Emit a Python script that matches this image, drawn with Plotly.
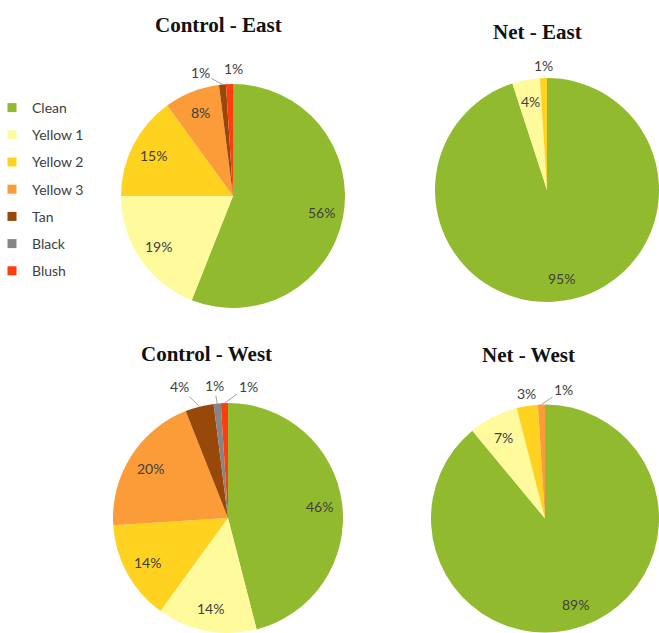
import math
import plotly.graph_objects as go

# Categories and colours
categories = ["Clean", "Yellow 1", "Yellow 2", "Yellow 3", "Tan", "Black", "Blush"]
colors = ["#92BA2E", "#FFFB9C", "#FFD21F", "#FB9C38", "#984808", "#858585", "#FF3D0F"]

# Percent of fruit in each category
control_east = [56, 19, 15, 8, 1, 0, 1]
net_east = [95, 4, 1, 0, 0, 0, 0]
control_west = [46, 14, 14, 20, 4, 1, 1]
net_west = [89, 7, 3, 1, 0, 0, 0]

W, H = 659, 633
LABEL_FONT = dict(family="Lato, Liberation Sans, sans-serif", size=14, color="#404040")
INSIDE_R = 0.8  # inside labels sit at this fraction of the radius


def px_x(x):
    return x / W


def px_y(y):
    return 1 - y / H


# Each panel: title, values, pie box (left, top, right, bottom) in px, title centre in px,
# and callout offsets (dx, dy, leader line) for the thin slices labelled outside the pie.
panels = [
    ("Control - East", control_east, (121, 84, 345, 308), (218, 25),
     {4: (-22, -12, True), 6: (4, -16, False)}),
    ("Net - East", net_east, (435, 76, 659, 304), (537, 32),
     {2: (0, -13, False)}),
    ("Control - West", control_west, (113, 403, 343, 633), (206, 354),
     {4: (-20, -20, True), 5: (-3, -18, True), 6: (24, -17, True)}),
    ("Net - West", net_west, (431, 404, 659, 633), (528, 355),
     {2: (-1, -12, False), 3: (22, -15, True)}),
]

fig = go.Figure()

for title, vals, (l, t, r, b), (tx, ty), callouts in panels:
    fig.add_trace(go.Pie(
        labels=categories,
        values=vals,
        textinfo="none",
        sort=False,
        direction="clockwise",
        rotation=0,
        marker=dict(colors=colors, line=dict(width=0)),
        domain=dict(x=[px_x(l), px_x(r)], y=[px_y(b), px_y(t)]),
        showlegend=False,
        hoverinfo="label+percent",
    ))
    fig.add_annotation(
        text=f"<b>{title}</b>", x=px_x(tx), y=px_y(ty), xref="paper", yref="paper",
        xanchor="center", yanchor="middle", showarrow=False,
        font=dict(family="Liberation Serif, Times New Roman, serif", size=21, color="#111111"),
    )

    # Percentage labels placed on each slice's bisector
    cx, cy = (l + r) / 2, (t + b) / 2
    rad = min(r - l, b - t) / 2
    total = sum(vals)
    cum = 0
    for i, v in enumerate(vals):
        if v <= 0:
            continue
        mid = (cum + v / 2) / total * 2 * math.pi
        cum += v
        sx, sy = math.sin(mid), -math.cos(mid)
        if i in callouts:
            dx, dy, leader = callouts[i]
            fig.add_annotation(
                text=f"{v}%", x=px_x(cx + rad * sx), y=px_y(cy + rad * sy),
                xref="paper", yref="paper", showarrow=True, ax=dx, ay=dy,
                arrowhead=0, arrowwidth=0.8,
                arrowcolor="#8c8c8c" if leader else "rgba(0,0,0,0)",
                font=LABEL_FONT,
            )
        else:
            fig.add_annotation(
                text=f"{v}%", x=px_x(cx + INSIDE_R * rad * sx), y=px_y(cy + INSIDE_R * rad * sy),
                xref="paper", yref="paper", showarrow=False,
                xanchor="center", yanchor="middle", font=LABEL_FONT,
            )

# Legend entries, one per category
for name, c in zip(categories, colors):
    fig.add_trace(go.Scatter(
        x=[None], y=[None], mode="markers", name=name, legendgroup=name,
        marker=dict(symbol="square", size=9, color=c),
    ))

fig.update_layout(
    width=W, height=H,
    margin=dict(l=0, r=0, t=0, b=0),
    paper_bgcolor="white", plot_bgcolor="white",
    xaxis=dict(visible=False), yaxis=dict(visible=False),
    showlegend=True,
    legend=dict(
        x=0, y=px_y(92), xanchor="left", yanchor="top",
        traceorder="grouped", tracegroupgap=6, indentation=-8,
        font=dict(family="Lato, Liberation Sans, sans-serif", size=14, color="#404040"),
        bgcolor="rgba(0,0,0,0)",
    ),
)

fig.write_html("out.html")
